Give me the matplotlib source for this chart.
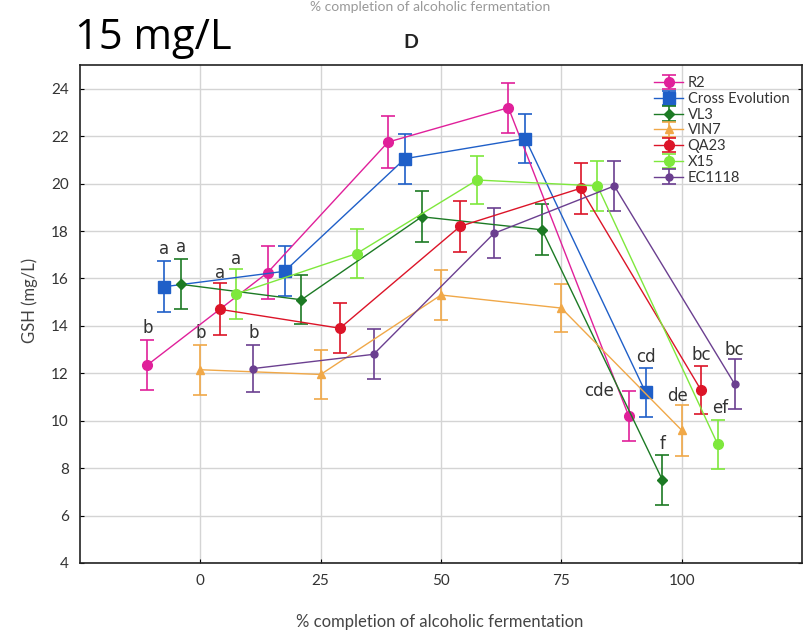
import matplotlib
matplotlib.use("Agg")
import matplotlib.pyplot as plt

plt.rcParams['font.family'] = ['Lato', 'DejaVu Sans']

# ---- data ----
completion = [0, 25, 50, 75, 100]
series_names = ["R2", "Cross Evolution", "VL3", "VIN7", "QA23", "X15", "EC1118"]

gsh_R2 = [12.35, 16.25, 21.75, 23.2, 10.2]
gsh_CE = [15.65, 16.3, 21.05, 21.9, 11.2]
gsh_VL3 = [15.75, 15.1, 18.6, 18.05, 7.5]
gsh_VIN7 = [12.15, 11.95, 15.3, 14.75, 9.6]
gsh_QA23 = [14.7, 13.9, 18.2, 19.8, 11.3]
gsh_X15 = [15.35, 17.05, 20.15, 19.9, 9.0]
gsh_EC1118 = [12.2, 12.8, 17.9, 19.9, 11.55]

err_R2 = [1.05, 1.1, 1.08, 1.05, 1.07]
err_CE = [1.07, 1.05, 1.05, 1.05, 1.03]
err_VL3 = [1.05, 1.03, 1.08, 1.07, 1.07]
err_VIN7 = [1.05, 1.05, 1.05, 1.02, 1.07]
err_QA23 = [1.1, 1.05, 1.07, 1.07, 1.02]
err_X15 = [1.05, 1.05, 1.03, 1.05, 1.05]
err_EC1118 = [1.0, 1.05, 1.05, 1.07, 1.07]

letters_start = ["b", "a", "a", "b", "a", "a", "b"]
letters_end = ["cde", "cd", "f", "de", "bc", "ef", "bc"]

yticks = [4, 6, 8, 10, 12, 14, 16, 18, 20, 22, 24]
xticks = [0, 25, 50, 75, 100]

values = [gsh_R2, gsh_CE, gsh_VL3, gsh_VIN7, gsh_QA23, gsh_X15, gsh_EC1118]
errors = [err_R2, err_CE, err_VL3, err_VIN7, err_QA23, err_X15, err_EC1118]

# ---- style ----
colors = ["#e0209a", "#1f5fc8", "#1c7a24", "#f0a848", "#dc1428", "#7ee83c", "#6b3f90"]
markers = ["o", "s", "D", "^", "o", "o", "o"]
msizes = [7, 8, 5, 6, 7, 7, 5]
dodge = [-11, -7.5, -4, 0, 4, 7.5, 11]
start_off = [(0, 12), (0, 12), (0, 12), (0, 12), (0, 10), (0, 10), (0, 12)]
end_off = [(-30, 0), (0, 11), (0, 11), (-4, 9), (0, 11), (2, 12), (0, 9)]

fig = plt.figure(figsize=(8.08, 6.41), dpi=100)
ax = fig.add_axes([80/808, 1-563/641, 722/808, 498/641])

for i, name in enumerate(series_names):
    xs = [c + dodge[i] for c in completion]
    ax.errorbar(xs, values[i], yerr=errors[i], color=colors[i], ecolor=colors[i],
                marker=markers[i], markersize=msizes[i], linewidth=1.0,
                elinewidth=1.2, capsize=5, capthick=1.2, label=name, zorder=3)
    ax.annotate(letters_start[i], xy=(xs[0], values[i][0] + errors[i][0]),
                xytext=start_off[i], textcoords='offset pixels',
                ha='center', va='center', fontsize=12, color="#333333",
                family=['DejaVu Sans'])
    ax.annotate(letters_end[i], xy=(xs[-1], values[i][-1] + errors[i][-1]),
                xytext=end_off[i], textcoords='offset pixels',
                ha='center', va='center', fontsize=12, color="#333333",
                family=['DejaVu Sans'])

ax.set_xlim(-25, 125)
ax.set_ylim(4, 25)
ax.set_xticks(xticks)
ax.set_yticks(yticks)
ax.tick_params(direction='in', right=True, length=3, labelsize=11,
               labelcolor="#333333", pad=8)
ax.grid(True, color="#d4d4d4", linewidth=1.0, zorder=0)
ax.set_axisbelow(True)
for s in ax.spines.values():
    s.set_linewidth(1.2)
    s.set_color("#222222")

leg = ax.legend(loc='upper left', bbox_to_anchor=((644-80)/722, 1-(1)/498),
                frameon=False, fontsize=10.5, handlelength=2.0, handletextpad=0.3,
                labelspacing=0.12, borderpad=0.2)
for t in leg.get_texts():
    t.set_color("#333333")
    t.set_clip_on(True)
    t.set_clip_box(ax.bbox)

fig.text(75/808, 1-38/641, "15 mg/L", fontsize=30, ha='left', va='center',
         family=['Open Sans', 'DejaVu Sans'])
fig.text(411/808, 1-42/641, "D", fontsize=14, fontweight='bold', ha='center',
         va='center', color="#222222")
fig.text(430/808, 1-1/641, "% completion of alcoholic fermentation", fontsize=10,
         ha='center', va='top', color="#999999")
fig.text(440/808, 1-622/641, "% completion of alcoholic fermentation", fontsize=12,
         ha='center', va='center', color="#444444")
fig.text(30/808, 1-300/641, "GSH (mg/L)", fontsize=12, rotation=90,
         ha='center', va='center', color="#444444")

fig.savefig("out.png", dpi=100)
